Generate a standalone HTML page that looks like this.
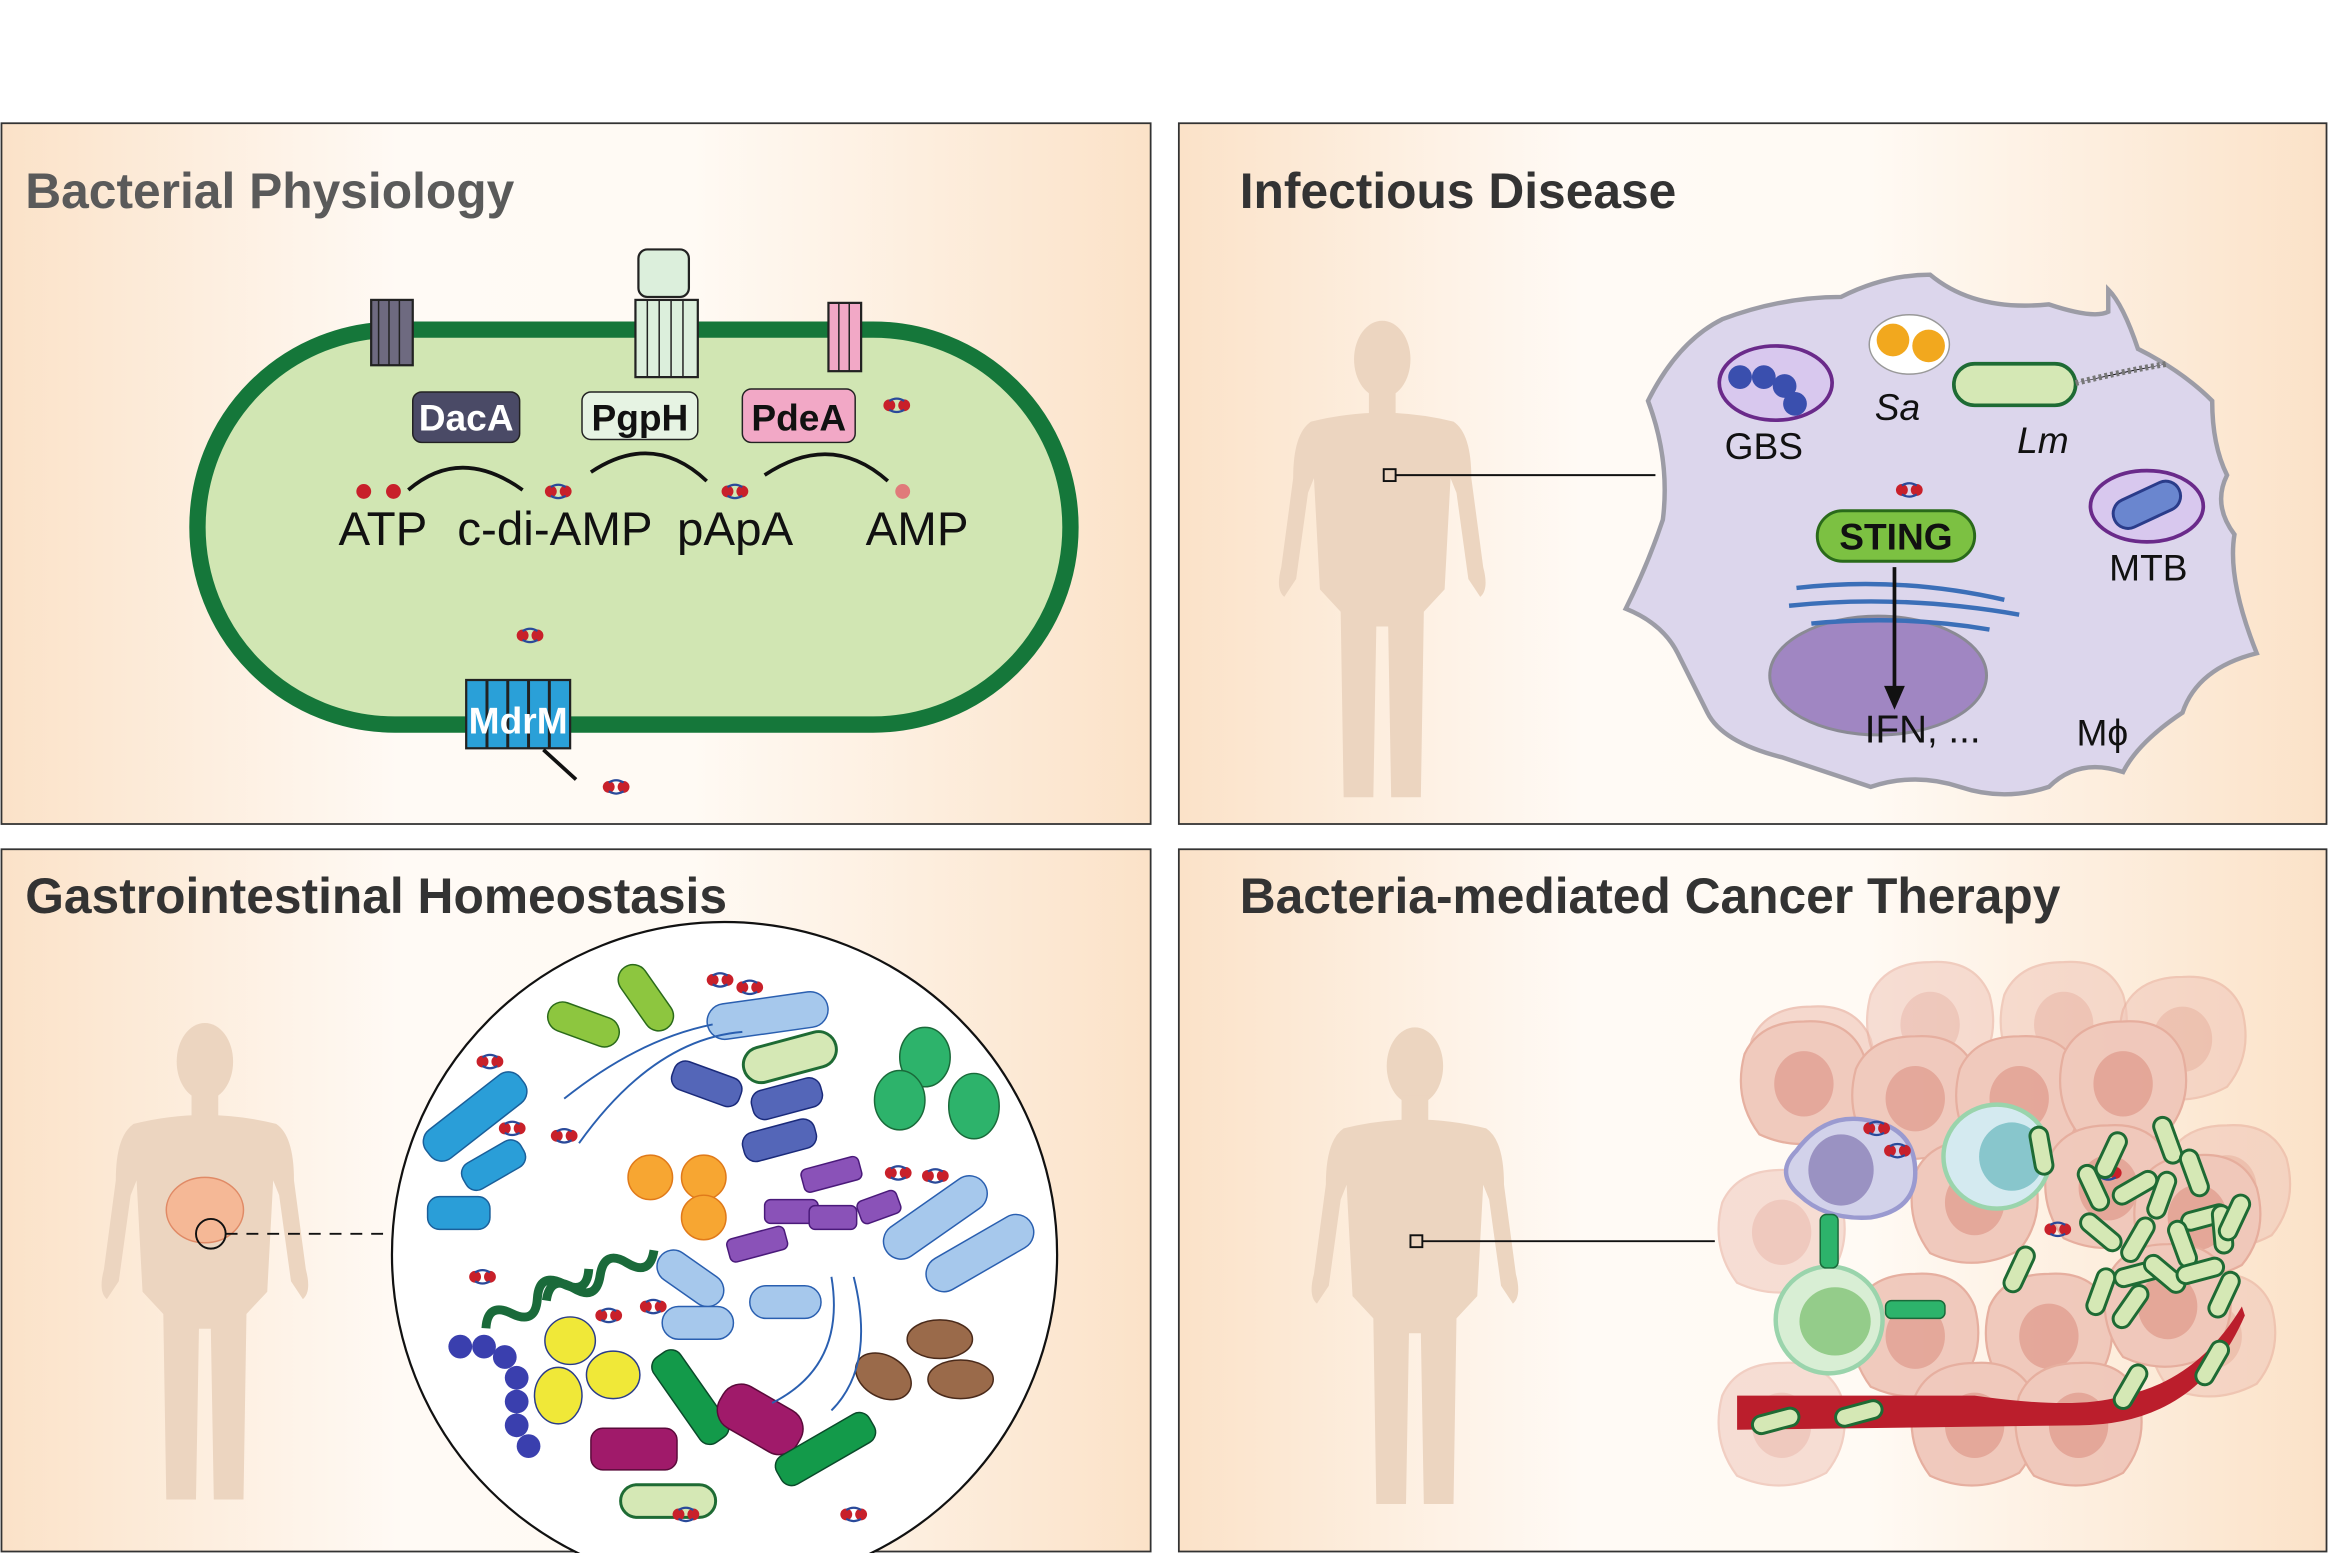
<!DOCTYPE html>
<html><head><meta charset="utf-8"><style>
html,body{margin:0;padding:0;background:#fff;}
svg{display:block;}
text{font-family:"Liberation Sans",Arial,sans-serif;}
</style></head><body>
<svg width="2328" height="1553" viewBox="0 0 1568 1046" preserveAspectRatio="none" xmlns="http://www.w3.org/2000/svg">
<defs>
<linearGradient id="pg" x1="0" x2="1" y1="0" y2="0">
<stop offset="0" stop-color="#fbe2c8"/><stop offset="0.35" stop-color="#fffaf5"/><stop offset="0.6" stop-color="#fffaf4"/><stop offset="1" stop-color="#fbe2c8"/></linearGradient>
<g id="human">
<ellipse cx="0" cy="30" rx="19" ry="26"/>
<rect x="-9" y="50" width="18" height="20"/>
<path d="M-48 72 Q0 60 48 72 Q60 80 60 110 L68 170 Q72 185 66 190 L58 178 L50 120 L46 110 L42 185 L28 200 L26 325 L6 325 L4 210 L-4 210 L-6 325 L-26 325 L-28 200 L-42 185 L-46 110 L-50 120 L-58 178 L-66 190 Q-72 185 -68 170 L-60 110 Q-60 80 -48 72Z"/>
</g>
<g id="rod"><rect x="-16" y="-6" width="32" height="12" rx="6" fill="#d5e8b5" stroke="#1e6b34" stroke-width="2"/></g>
<g id="cda"><circle cx="-5" cy="0" r="4" fill="#c8202a"/><circle cx="5" cy="0" r="4" fill="#c8202a"/><path d="M-5 -3 Q0 -6 5 -3 M-5 3 Q0 6 5 3" stroke="#2a4a9a" stroke-width="1.5" fill="none"/></g>
<g id="tcell"><path d="M0 -42 Q30 -44 40 -20 Q48 10 30 32 Q0 48 -30 34 Q-48 10 -40 -20 Q-30 -42 0 -42Z" fill="#efc5b8" stroke="#e4a898" stroke-width="1.5"/><ellipse cx="0" cy="0" rx="20" ry="22" fill="#e2a092"/></g>
</defs>
<rect width="1568" height="1046" fill="#fff"/>
<!-- panels -->
<rect x="1" y="83" width="774" height="472" fill="url(#pg)" stroke="#333" stroke-width="1.2"/>
<rect x="794" y="83" width="773" height="472" fill="url(#pg)" stroke="#333" stroke-width="1.2"/>
<rect x="1" y="572" width="774" height="473" fill="url(#pg)" stroke="#333" stroke-width="1.2"/>
<rect x="794" y="572" width="773" height="473" fill="url(#pg)" stroke="#333" stroke-width="1.2"/>
<text x="17" y="140" font-size="33.5" font-weight="bold" fill="#5a5a5a">Bacterial Physiology</text>
<text x="835" y="140" font-size="33.5" font-weight="bold" fill="#333">Infectious Disease</text>
<text x="17" y="615" font-size="33.5" font-weight="bold" fill="#333">Gastrointestinal Homeostasis</text>
<text x="835" y="615" font-size="33.5" font-weight="bold" fill="#333">Bacteria-mediated Cancer Therapy</text>

<!-- Panel 1 bacterium -->
<g>
<rect x="133" y="222" width="588" height="266" rx="133" fill="#d1e6b3" stroke="#15773a" stroke-width="11"/>
<rect x="250" y="202" width="28" height="44" fill="#6e6a80" stroke="#222" stroke-width="1.5"/>
<path d="M255 202 V246 M262 202 V246 M269 202 V246" stroke="#222"/>
<rect x="428" y="202" width="42" height="52" fill="#dcefdc" stroke="#222" stroke-width="1.5"/>
<path d="M436 202 V254 M444 202 V254 M452 202 V254 M460 202 V254" stroke="#222"/>
<rect x="430" y="168" width="34" height="32" rx="6" fill="#dcefdc" stroke="#222" stroke-width="1.5"/>
<rect x="558" y="204" width="22" height="46" fill="#f2a8c6" stroke="#222" stroke-width="1.5"/>
<path d="M565 204 V250 M572 204 V250" stroke="#222"/>
<rect x="278" y="264" width="72" height="34" rx="6" fill="#4a4a66" stroke="#222"/>
<text x="314" y="290" font-size="25" font-weight="bold" fill="#fff" text-anchor="middle">DacA</text>
<rect x="392" y="264" width="78" height="32" rx="6" fill="#e6f3e3" stroke="#222"/>
<text x="431" y="290" font-size="25" font-weight="bold" fill="#111" text-anchor="middle">PgpH</text>
<rect x="500" y="262" width="76" height="36" rx="6" fill="#f2a8c6" stroke="#222"/>
<text x="538" y="290" font-size="25" font-weight="bold" fill="#111" text-anchor="middle">PdeA</text>
<text x="228" y="367" font-size="32" fill="#111">ATP</text>
<text x="308" y="367" font-size="32" fill="#111">c-di-AMP</text>
<text x="456" y="367" font-size="32" fill="#111">pApA</text>
<text x="583" y="367" font-size="32" fill="#111">AMP</text>
<circle cx="245" cy="331" r="5" fill="#c8202a"/><circle cx="265" cy="331" r="5" fill="#c8202a"/>
<use href="#cda" x="376" y="331"/><use href="#cda" x="495" y="331"/><use href="#cda" x="604" y="273"/><use href="#cda" x="357" y="428"/><use href="#cda" x="415" y="530"/>
<circle cx="608" cy="331" r="5" fill="#e07a7a"/>
<path d="M275 330 Q310 300 352 330 M398 318 Q440 290 476 324 M515 320 Q560 290 598 324" stroke="#111" stroke-width="2.5" fill="none"/>
<rect x="314" y="458" width="70" height="46" fill="#2aa0d8" stroke="#222" stroke-width="1.5"/>
<path d="M328 458V504 M342 458V504 M356 458V504 M370 458V504" stroke="#222" stroke-width="2"/>
<text x="349" y="494" font-size="25" font-weight="bold" fill="#fff" text-anchor="middle">MdrM</text>
<path d="M366 505 L388 525" stroke="#111" stroke-width="2.5"/>
</g>

<!-- Panel 2 -->
<use href="#human" x="931" y="212" fill="#ecd5c0"/>
<rect x="932" y="316" width="8" height="8" fill="none" stroke="#111" stroke-width="1.3"/>
<path d="M940 320 H1115" stroke="#111" stroke-width="1.3"/>
<path d="M1110 270 Q1130 230 1160 215 Q1200 200 1240 200 Q1270 185 1300 185 Q1330 210 1380 205 Q1410 215 1420 210 L1420 195 Q1430 205 1440 235 Q1470 250 1490 270 Q1490 300 1500 320 Q1490 340 1505 360 Q1500 390 1520 440 Q1480 450 1470 480 Q1440 500 1430 520 Q1400 510 1380 530 Q1350 540 1320 530 Q1290 520 1260 530 Q1230 520 1200 510 Q1160 500 1150 480 Q1140 460 1130 440 Q1120 420 1095 410 Q1110 380 1120 350 Q1125 310 1110 270Z" fill="#dcd6ec" stroke="#9c9ca6" stroke-width="3"/>
<ellipse cx="1265" cy="455" rx="73" ry="40" fill="#a086c2" stroke="#8a8a94" stroke-width="2"/>
<path d="M1210 396 Q1280 388 1350 404 M1205 408 Q1280 400 1360 414 M1220 420 Q1280 414 1340 424" stroke="#3b6fb8" stroke-width="3" fill="none"/>
<ellipse cx="1196" cy="258" rx="38" ry="25" fill="#d8c8ee" stroke="#6a2a8a" stroke-width="2.5"/>
<circle cx="1172" cy="254" r="8" fill="#3a4fae"/><circle cx="1188" cy="254" r="8" fill="#3a4fae"/><circle cx="1202" cy="260" r="8" fill="#3a4fae"/><circle cx="1209" cy="272" r="8" fill="#3a4fae"/>
<text x="1188" y="309" font-size="25" fill="#111" text-anchor="middle">GBS</text>
<ellipse cx="1286" cy="232" rx="27" ry="20" fill="#fff" stroke="#999"/>
<circle cx="1275" cy="229" r="11" fill="#f2a81e"/><circle cx="1299" cy="233" r="11" fill="#f2a81e"/>
<text x="1278" y="283" font-size="25" font-style="italic" fill="#111" text-anchor="middle">Sa</text>
<rect x="1316" y="245" width="82" height="28" rx="14" fill="#d5e8b5" stroke="#1e6b34" stroke-width="2.5"/>
<path d="M1398 258 Q1430 250 1460 245" stroke="#777" stroke-width="4" stroke-dasharray="2 2"/>
<text x="1376" y="305" font-size="25" font-style="italic" fill="#111" text-anchor="middle">Lm</text>
<ellipse cx="1446" cy="341" rx="38" ry="24" fill="#d8c8ee" stroke="#6a2a8a" stroke-width="2.5"/>
<rect x="1422" y="330" width="48" height="20" rx="10" fill="#6a86cf" stroke="#2a3c8a" stroke-width="2" transform="rotate(-25 1446 340)"/>
<text x="1447" y="391" font-size="25" fill="#111" text-anchor="middle">MTB</text>
<use href="#cda" x="1286" y="330"/>
<rect x="1224" y="344" width="106" height="34" rx="17" fill="#7cc142" stroke="#2a6a1a" stroke-width="2"/>
<text x="1277" y="370" font-size="25" font-weight="bold" fill="#111" text-anchor="middle">STING</text>
<path d="M1276 382 V465" stroke="#111" stroke-width="2.5"/><path d="M1269 462 L1276 478 L1283 462Z" fill="#111"/>
<text x="1295" y="500" font-size="26" fill="#111" text-anchor="middle">IFN, ...</text>
<text x="1416" y="502" font-size="25" fill="#111" text-anchor="middle">Mϕ</text>

<!-- Panel 3 -->
<use href="#human" x="138" y="685" fill="#ecd5c0"/>
<ellipse cx="138" cy="815" rx="26" ry="22" fill="#f5b896" stroke="#e08a66"/>
<circle cx="142" cy="831" r="10" fill="none" stroke="#111" stroke-width="1.3"/>
<path d="M152 831 H262" stroke="#111" stroke-width="1.3" stroke-dasharray="8 6"/>
<circle cx="488" cy="845" r="224" fill="#fff" stroke="#111" stroke-width="1.5"/>
<g>
<rect x="280" y="740" width="80" height="24" rx="10" fill="#2a9ed8" stroke="#1a5f9a" transform="rotate(-38 320 752)"/>
<rect x="310" y="775" width="45" height="20" rx="8" fill="#2a9ed8" stroke="#1a5f9a" transform="rotate(-30 332 785)"/>
<rect x="288" y="806" width="42" height="22" rx="8" fill="#2a9ed8" stroke="#1a5f9a"/>
<rect x="368" y="680" width="50" height="20" rx="10" fill="#8dc63f" stroke="#2a6a1a" transform="rotate(20 393 690)"/>
<rect x="410" y="662" width="50" height="20" rx="10" fill="#8dc63f" stroke="#2a6a1a" transform="rotate(55 435 672)"/>
<rect x="476" y="672" width="82" height="24" rx="12" fill="#a6c8ec" stroke="#2a5fb0" transform="rotate(-8 517 684)"/>
<rect x="500" y="700" width="64" height="24" rx="12" fill="#d5e8b5" stroke="#1e6b34" stroke-width="2" transform="rotate(-15 532 712)"/>
<ellipse cx="623" cy="712" rx="17" ry="20" fill="#2db36b" stroke="#1a6a3a"/><ellipse cx="606" cy="741" rx="17" ry="20" fill="#2db36b" stroke="#1a6a3a"/><ellipse cx="656" cy="745" rx="17" ry="22" fill="#2db36b" stroke="#1a6a3a"/>
<rect x="452" y="720" width="48" height="20" rx="8" fill="#5466b8" stroke="#1a2a7a" transform="rotate(20 476 730)"/>
<rect x="506" y="730" width="48" height="20" rx="8" fill="#5466b8" stroke="#1a2a7a" transform="rotate(-15 530 740)"/>
<rect x="500" y="758" width="50" height="20" rx="8" fill="#5466b8" stroke="#1a2a7a" transform="rotate(-15 525 768)"/>
<path d="M318 880 q10 -15 20 0 t20 0 t20 0 t20 0" stroke="#1a6a3a" stroke-width="6" fill="none" transform="rotate(-30 350 870)"/>
<path d="M360 860 q10 -15 20 0 t20 0 t20 0 t20 0" stroke="#1a6a3a" stroke-width="6" fill="none" transform="rotate(-25 400 850)"/>
<circle cx="438" cy="793" r="15" fill="#f7a632" stroke="#e07a1a"/><circle cx="474" cy="793" r="15" fill="#f7a632" stroke="#e07a1a"/><circle cx="474" cy="820" r="15" fill="#f7a632" stroke="#e07a1a"/>
<rect x="540" y="783" width="40" height="16" rx="4" fill="#8a52b8" stroke="#4a1a7a" transform="rotate(-15 560 791)"/>
<rect x="515" y="808" width="36" height="16" rx="4" fill="#8a52b8" stroke="#4a1a7a"/><rect x="545" y="812" width="32" height="16" rx="4" fill="#8a52b8" stroke="#4a1a7a"/><rect x="578" y="805" width="28" height="16" rx="4" fill="#8a52b8" stroke="#4a1a7a" transform="rotate(-20 592 813)"/>
<rect x="490" y="830" width="40" height="16" rx="4" fill="#8a52b8" stroke="#4a1a7a" transform="rotate(-15 510 838)"/>
<rect x="590" y="808" width="80" height="24" rx="12" fill="#a6c8ec" stroke="#2a5fb0" transform="rotate(-35 630 820)"/>
<rect x="620" y="832" width="80" height="24" rx="12" fill="#a6c8ec" stroke="#2a5fb0" transform="rotate(-30 660 844)"/>
<rect x="440" y="850" width="50" height="22" rx="11" fill="#a6c8ec" stroke="#2a5fb0" transform="rotate(35 465 861)"/>
<rect x="446" y="880" width="48" height="22" rx="11" fill="#a6c8ec" stroke="#2a5fb0"/><rect x="505" y="866" width="48" height="22" rx="11" fill="#a6c8ec" stroke="#2a5fb0"/>
<ellipse cx="384" cy="903" rx="17" ry="16" fill="#f0e838" stroke="#2a3c8a"/><ellipse cx="413" cy="926" rx="18" ry="16" fill="#f0e838" stroke="#2a3c8a"/><ellipse cx="376" cy="940" rx="16" ry="19" fill="#f0e838" stroke="#2a3c8a"/>
<circle cx="310" cy="907" r="8" fill="#3a3fae"/><circle cx="326" cy="907" r="8" fill="#3a3fae"/><circle cx="340" cy="914" r="8" fill="#3a3fae"/><circle cx="348" cy="928" r="8" fill="#3a3fae"/><circle cx="348" cy="944" r="8" fill="#3a3fae"/><circle cx="348" cy="960" r="8" fill="#3a3fae"/><circle cx="356" cy="974" r="8" fill="#3a3fae"/>
<rect x="430" y="930" width="70" height="22" rx="8" fill="#139a4a" stroke="#0a4a2a" transform="rotate(55 465 941)"/>
<rect x="482" y="940" width="60" height="32" rx="14" fill="#a01a6a" stroke="#5a0a3a" transform="rotate(30 512 956)"/>
<rect x="398" y="962" width="58" height="28" rx="8" fill="#a01a6a" stroke="#5a0a3a"/>
<rect x="520" y="965" width="72" height="22" rx="8" fill="#139a4a" stroke="#0a4a2a" transform="rotate(-30 556 976)"/>
<ellipse cx="595" cy="927" rx="20" ry="14" fill="#9a6a4a" stroke="#4a2a1a" transform="rotate(30 595 927)"/>
<ellipse cx="633" cy="902" rx="22" ry="13" fill="#9a6a4a" stroke="#4a2a1a"/><ellipse cx="647" cy="929" rx="22" ry="13" fill="#9a6a4a" stroke="#4a2a1a"/>
<rect x="418" y="1000" width="64" height="22" rx="11" fill="#d5e8b5" stroke="#1e6b34" stroke-width="2"/>
<path d="M380 740 Q430 700 480 690 M390 770 Q440 700 500 695 M560 860 Q570 920 520 945 M575 860 Q590 920 560 950" stroke="#2a5fb0" stroke-width="1.3" fill="none"/>
<use href="#cda" x="330" y="715"/><use href="#cda" x="345" y="760"/><use href="#cda" x="380" y="765"/><use href="#cda" x="485" y="660"/><use href="#cda" x="505" y="665"/><use href="#cda" x="325" y="860"/><use href="#cda" x="410" y="886"/><use href="#cda" x="440" y="880"/><use href="#cda" x="605" y="790"/><use href="#cda" x="630" y="792"/><use href="#cda" x="462" y="1020"/><use href="#cda" x="575" y="1020"/>
</g>

<!-- Panel 4 -->
<use href="#human" x="953" y="688" fill="#ecd5c0"/>
<rect x="950" y="832" width="8" height="8" fill="none" stroke="#111" stroke-width="1.3"/>
<path d="M958 836 H1155" stroke="#111" stroke-width="1.3"/>
<g opacity="0.9">
<use href="#tcell" x="1220" y="720" opacity="0.7"/><use href="#tcell" x="1300" y="690" opacity="0.6"/><use href="#tcell" x="1390" y="690" opacity="0.6"/><use href="#tcell" x="1470" y="700" opacity="0.6"/>
<use href="#tcell" x="1200" y="830" opacity="0.6"/><use href="#tcell" x="1500" y="800" opacity="0.6"/><use href="#tcell" x="1490" y="900" opacity="0.6"/><use href="#tcell" x="1200" y="960" opacity="0.6"/>
<use href="#tcell" x="1215" y="730"/><use href="#tcell" x="1290" y="740"/><use href="#tcell" x="1360" y="740"/><use href="#tcell" x="1430" y="730"/>
<use href="#tcell" x="1330" y="810"/><use href="#tcell" x="1420" y="800"/><use href="#tcell" x="1480" y="820"/>
<use href="#tcell" x="1290" y="900"/><use href="#tcell" x="1380" y="900"/><use href="#tcell" x="1460" y="880"/><use href="#tcell" x="1330" y="960"/><use href="#tcell" x="1400" y="960"/>
</g>
<path d="M1170 940 H1330 Q1400 950 1430 940 Q1480 930 1510 880 L1512 886 Q1480 960 1400 960 L1170 963Z" fill="#bb1e2c"/>
<path d="M1210 775 Q1230 748 1260 755 Q1290 760 1290 790 Q1290 815 1260 820 Q1230 822 1212 805 Q1195 790 1210 775Z" fill="#d2d2ea" stroke="#9a9ad0" stroke-width="3"/>
<ellipse cx="1240" cy="788" rx="22" ry="24" fill="#9a92c2"/>
<ellipse cx="1345" cy="779" rx="36" ry="35" fill="#d4eaf0" stroke="#9ad4ac" stroke-width="3"/>
<ellipse cx="1355" cy="779" rx="22" ry="23" fill="#88c6cc"/>
<ellipse cx="1232" cy="889" rx="36" ry="36" fill="#d8eed4" stroke="#9ad4ac" stroke-width="3"/>
<ellipse cx="1236" cy="890" rx="24" ry="23" fill="#94cc8a"/>
<rect x="1226" y="818" width="12" height="36" rx="4" fill="#2db36b" stroke="#1a6a3a"/>
<rect x="1270" y="876" width="40" height="12" rx="4" fill="#2db36b" stroke="#1a6a3a"/>
<use href="#cda" x="1264" y="760"/><use href="#cda" x="1278" y="775"/><use href="#cda" x="1420" y="790"/><use href="#cda" x="1386" y="828"/>
<g>
<use href="#rod" transform="translate(1375 775) rotate(80)"/><use href="#rod" transform="translate(1422 778) rotate(-65)"/><use href="#rod" transform="translate(1460 768) rotate(70)"/>
<use href="#rod" transform="translate(1478 790) rotate(70)"/><use href="#rod" transform="translate(1410 800) rotate(65)"/><use href="#rod" transform="translate(1438 800) rotate(-30)"/>
<use href="#rod" transform="translate(1456 805) rotate(-70)"/><use href="#rod" transform="translate(1415 830) rotate(40)"/><use href="#rod" transform="translate(1485 820) rotate(-15)"/>
<use href="#rod" transform="translate(1440 835) rotate(-60)"/><use href="#rod" transform="translate(1470 838) rotate(70)"/><use href="#rod" transform="translate(1497 828) rotate(85)"/>
<use href="#rod" transform="translate(1505 820) rotate(-65)"/><use href="#rod" transform="translate(1360 855) rotate(-65)"/><use href="#rod" transform="translate(1415 870) rotate(-70)"/>
<use href="#rod" transform="translate(1440 858) rotate(-15)"/><use href="#rod" transform="translate(1458 858) rotate(40)"/><use href="#rod" transform="translate(1482 856) rotate(-15)"/>
<use href="#rod" transform="translate(1435 880) rotate(-55)"/><use href="#rod" transform="translate(1498 872) rotate(-65)"/><use href="#rod" transform="translate(1490 918) rotate(-60)"/>
<use href="#rod" transform="translate(1435 934) rotate(-60)"/><use href="#rod" transform="translate(1196 957) rotate(-15)"/><use href="#rod" transform="translate(1252 952) rotate(-15)"/>
</g>
</svg>
</body></html>
